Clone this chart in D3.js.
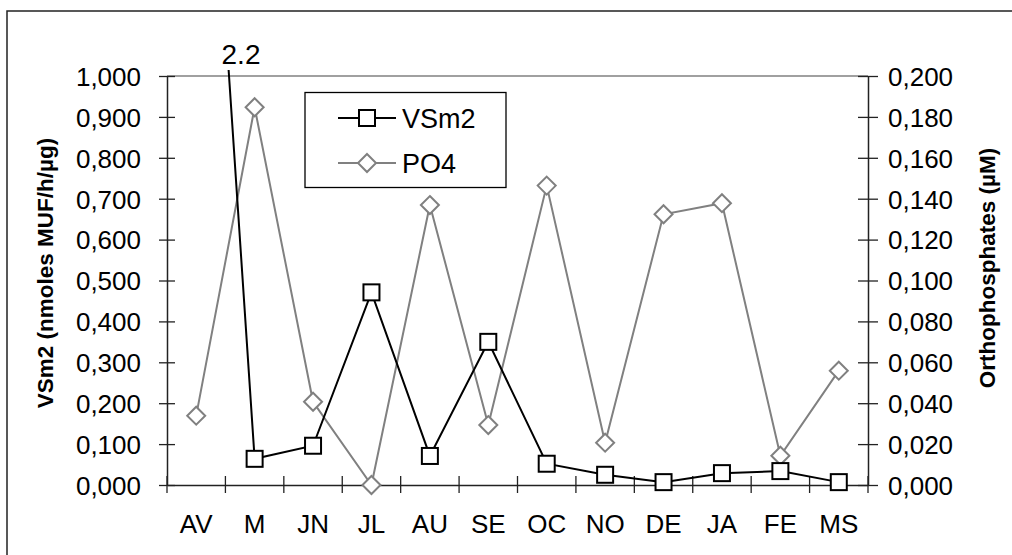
<!DOCTYPE html>
<html><head><meta charset="utf-8">
<script src="https://cdn.jsdelivr.net/npm/d3@7"></script>
<style>body{margin:0;background:#fff}svg{display:block}text{font-family:"Liberation Sans",Arial,sans-serif}</style>
</head><body>
<svg id="c" width="1012" height="555"></svg>
<script>
const categories = ["AV","M","JN","JL","AU","SE","OC","NO","DE","JA","FE","MS"];
const vsm2 = [2.2,0.064,0.096,0.471,0.071,0.350,0.052,0.025,0.007,0.029,0.034,0.007];
const po4 = [0.0339,0.1847,0.0407,0.0,0.1369,0.0293,0.1464,0.0207,0.1324,0.1378,0.0143,0.0559];
const leftTicks = [0,0.1,0.2,0.3,0.4,0.5,0.6,0.7,0.8,0.9,1.0];
const rightTicks = [0,0.02,0.04,0.06,0.08,0.1,0.12,0.14,0.16,0.18,0.2];
const fmt = d => d3.format(".3f")(d).replace(".", ",");

const svg = d3.select("#c");
const L = 167, R = 868, T = 76, B = 485;
const x = d3.scaleBand().domain(categories).range([L, R]);
const cx = d => x(d) + x.bandwidth()/2;
const yL = d3.scaleLinear().domain([0,1]).range([B, T]);
const yR = d3.scaleLinear().domain([0,0.2]).range([B, T]);

// outer frame
svg.append("rect").attr("x",7).attr("y",11).attr("width",1020).attr("height",560)
  .attr("fill","none").attr("stroke","#222").attr("stroke-width",1.5);

// top plot border
svg.append("line").attr("x1",L).attr("x2",R).attr("y1",T).attr("y2",T).attr("stroke","#808080").attr("stroke-width",1.5);

// axes
const ax = svg.append("g").attr("transform",`translate(${L},0)`)
  .call(d3.axisLeft(yL).tickValues(leftTicks).tickFormat(fmt).tickSizeInner(8).tickSizeOuter(0));
ax.selectAll(".tick line").attr("x2",-8).attr("x1",8);
const ar = svg.append("g").attr("transform",`translate(${R},0)`)
  .call(d3.axisRight(yR).tickValues(rightTicks).tickFormat(fmt).tickSizeInner(8).tickSizeOuter(0));
ar.selectAll(".tick line").attr("x1",-10).attr("x2",10);
const bx = svg.append("g").attr("transform",`translate(0,${B})`)
  .call(d3.axisBottom(x).tickSize(0).tickSizeOuter(0));
// boundary ticks
const bounds = categories.map(c => x(c)).concat([R]);
bx.selectAll(".bt").data(bounds).join("line").attr("class","bt")
  .attr("x1",d=>d).attr("x2",d=>d).attr("y1",-9).attr("y2",8).attr("stroke","#222").attr("stroke-width",1.3);
[ax,ar,bx].forEach(g=>{
  g.select(".domain").attr("stroke","#222").attr("stroke-width",1.5);
  g.selectAll(".tick line").attr("stroke","#222").attr("stroke-width",1.3);
  g.selectAll("text").attr("fill","#000").style("font-size","26px");
});
ax.selectAll(".tick text").attr("x",-26).attr("dy","0.36em");
ar.selectAll(".tick text").attr("x",20).attr("dy","0.36em");
bx.selectAll(".tick text").attr("y",48).attr("dy","0");

// axis titles
svg.append("text").attr("transform","translate(53,273) rotate(-90)").attr("text-anchor","middle")
  .style("font-size","22.5px").style("font-weight","bold").text("VSm2 (nmoles MUF/h/µg)");
svg.append("text").attr("transform","translate(995,268) rotate(-90)").attr("text-anchor","middle")
  .style("font-size","22.5px").style("font-weight","bold").text("Orthophosphates (µM)");

// clip
svg.append("clipPath").attr("id","clip").append("rect").attr("x",L).attr("y",70).attr("width",R-L).attr("height",B-70+20);

// PO4 series
const lineR = d3.line().x((d,i)=>cx(categories[i])).y(d=>yR(d));
svg.append("path").datum(po4).attr("d",lineR).attr("fill","none").attr("stroke","#808080").attr("stroke-width",2);
const dsz = 9;
svg.selectAll(".dia").data(po4).join("path").attr("class","dia")
  .attr("d",(d,i)=>{const X=cx(categories[i]),Y=yR(d);return `M${X},${Y-dsz}L${X+dsz},${Y}L${X},${Y+dsz}L${X-dsz},${Y}Z`;})
  .attr("fill","#fff").attr("stroke","#808080").attr("stroke-width",2);

// VSm2 series
const lineL = d3.line().x((d,i)=>cx(categories[i])).y(d=>yL(d));
svg.append("path").datum(vsm2).attr("d",lineL).attr("fill","none").attr("stroke","#000").attr("stroke-width",2)
  .attr("clip-path","url(#clip)");
const sq = 16;
svg.selectAll(".sq").data(vsm2.map((v,i)=>({v,c:categories[i]})).filter(d=>d.v<=1)).join("rect").attr("class","sq")
  .attr("x",d=>cx(d.c)-sq/2).attr("y",d=>yL(d.v)-sq/2).attr("width",sq).attr("height",sq)
  .attr("fill","#fff").attr("stroke","#000").attr("stroke-width",2);

// off-scale label
svg.append("text").attr("x",241).attr("y",64).attr("text-anchor","middle").style("font-size","28px").text(String(vsm2[0]));

// legend
const lg = svg.append("g");
lg.append("rect").attr("x",305).attr("y",92.5).attr("width",201).attr("height",95).attr("fill","#fff").attr("stroke","#000").attr("stroke-width",1.3);
const items = [{n:"VSm2",y:118,c:"#000",m:"sq"},{n:"PO4",y:163,c:"#808080",m:"dia"}];
items.forEach(it=>{
  lg.append("line").attr("x1",338).attr("x2",396).attr("y1",it.y).attr("y2",it.y).attr("stroke",it.c).attr("stroke-width",2);
  if(it.m==="sq") lg.append("rect").attr("x",367-8).attr("y",it.y-8).attr("width",16).attr("height",16).attr("fill","#fff").attr("stroke",it.c).attr("stroke-width",2);
  else lg.append("path").attr("d",`M367,${it.y-9}L376,${it.y}L367,${it.y+9}L358,${it.y}Z`).attr("fill","#fff").attr("stroke",it.c).attr("stroke-width",2);
  lg.append("text").attr("x",402).attr("y",it.y).attr("dy","0.36em").style("font-size","27px").text(it.n);
});
</script>
</body></html>
